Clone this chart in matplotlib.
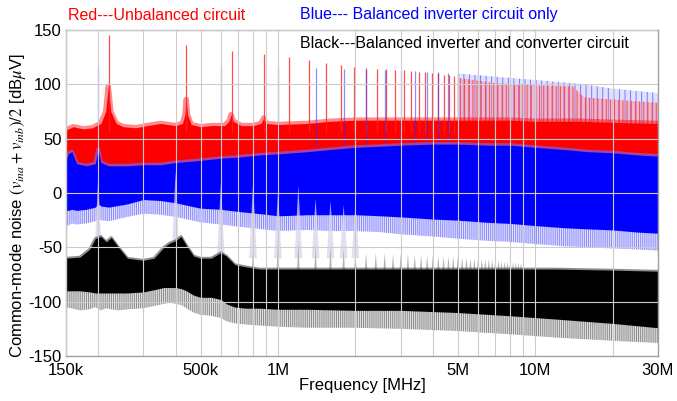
import numpy as np
import matplotlib
matplotlib.use('Agg')
import matplotlib.pyplot as plt
from matplotlib.ticker import LogLocator, NullFormatter

plt.rcParams['font.family'] = ['Liberation Sans', 'DejaVu Sans']
plt.rcParams['mathtext.fontset'] = 'stix'
plt.rcParams['axes.unicode_minus'] = False
plt.rcParams['hatch.linewidth'] = 0.7

# --- red trace (unbalanced), frequencies in MHz, levels in dBuV ---
red_f = [0.15, 0.16, 0.175, 0.19, 0.205, 0.214, 0.219, 0.224, 0.235, 0.25, 0.28, 0.31, 0.35,
         0.40, 0.425, 0.435, 0.44, 0.445, 0.46, 0.5, 0.55, 0.62, 0.645, 0.657, 0.67, 0.72,
         0.8, 0.86, 0.88, 0.9, 1.0, 1.3, 1.6, 2.0, 3.0, 4.0, 6.0, 8.0, 10.0, 15.0, 20.0, 30.0]
red_top = [58, 61, 59, 60, 64, 75, 98, 75, 64, 61, 60, 62, 64,
           62, 64, 72, 86, 72, 63, 61, 62, 62, 66, 72, 66, 62,
           62, 64, 69, 64, 63, 64, 66, 67, 67, 67, 67, 67, 66, 66, 65, 64]

red_spike_f = [0.22, 0.44, 0.66, 0.88, 1.10, 1.32, 1.54, 1.76, 1.98, 2.20, 2.42, 2.64,
               2.86, 3.08, 3.30, 3.52, 3.74, 3.96, 4.18, 4.40, 4.62, 4.84]
red_spike_top = [145, 136, 131, 128, 125, 122, 120, 118, 116, 115, 114, 114,
                 113, 113, 112, 111, 111, 110, 110, 109, 109, 108]

# dense harmonics above 5 MHz
comb_f = [5.0, 7.0, 10.0, 14.0, 15.5, 20.0, 30.0]
red_comb_top = [106, 101, 99, 98, 88, 86, 83]
blue_comb_top = [110, 107, 104, 101, 100, 96, 92]

# --- blue trace (balanced inverter only) ---
blue_f = [0.15, 0.153, 0.158, 0.165, 0.18, 0.195, 0.2, 0.205, 0.22, 0.26, 0.3, 0.35, 0.4,
          0.5, 0.6, 0.7, 0.85, 1.0, 1.3, 1.6, 2.0, 2.5, 3.0, 4.0, 5.0, 6.5, 8.0, 10.0,
          13.0, 16.0, 20.0, 25.0, 30.0]
blue_top = [30, 36, 38, 27, 25, 27, 40, 28, 25, 25, 26, 26, 28,
            30, 32, 33, 35, 36, 38, 40, 42, 43, 44, 45, 45, 44, 44, 42,
            40, 38, 37, 35, 34]
blue_bot = [-16, -16, -15, -16, -15, -13, -10, -12, -13, -10, -6, -7, -9,
            -14, -15, -17, -19, -21, -20, -20, -20, -21, -22, -24, -25, -27, -28, -30,
            -32, -33, -34, -36, -37]
blue_low = [-30, -30, -28, -29, -28, -26, -24, -25, -26, -22, -19, -20, -22,
            -27, -29, -31, -33, -35, -34, -35, -35, -36, -38, -40, -42, -44, -45, -47,
            -49, -50, -51, -52, -53]

blue_spike_f = [0.2, 0.6, 1.0, 1.4, 1.8, 2.2, 2.6, 3.0, 3.4, 3.8, 4.2, 4.6, 5.0]
blue_spike_top = [117, 117, 116, 115, 114, 113, 113, 112, 112, 111, 111, 110, 110]

# --- black trace (balanced inverter + converter) ---
black_f = [0.15, 0.17, 0.185, 0.195, 0.205, 0.215, 0.225, 0.24, 0.26, 0.3, 0.33, 0.36,
           0.38, 0.4, 0.42, 0.44, 0.47, 0.5, 0.55, 0.6, 0.63, 0.68, 0.75, 0.85, 1.0, 1.3,
           2.0, 3.0, 5.0, 8.0, 12.0, 20.0, 30.0]
black_top = [-60, -59, -52, -42, -40, -45, -41, -50, -60, -62, -60, -50,
             -46, -44, -40, -48, -58, -60, -60, -55, -58, -66, -68, -70, -70, -70,
             -70, -70, -70, -70, -70, -71, -72]
black_bot = [-90, -90, -91, -92, -92, -92, -92, -92, -92, -91, -89, -87,
             -87, -87, -88, -90, -94, -96, -96, -98, -102, -105, -106, -106, -107, -107,
             -108, -108, -110, -113, -116, -120, -124]
black_low = [-105, -108, -107, -105, -108, -106, -107, -108, -107, -106, -104, -102,
             -101, -102, -103, -106, -110, -112, -113, -115, -118, -120, -121, -122, -123, -124,
             -124, -125, -127, -130, -133, -136, -138]

# harmonics of the black trace showing over the blue band
tent_f = [0.2, 0.4, 0.6, 0.8, 1.0, 1.2, 1.4, 1.6, 1.8, 2.0]
tent_top = [14, 20, 9, 9, 0, 7, -5, -7, -11, -11]

# gray harmonics just above the black band
gray_f = [0.8, 1.0, 1.2, 1.4, 1.6, 1.8, 2.0, 2.2, 2.4, 2.6, 2.8, 3.0, 3.2, 3.4,
          3.6, 3.8, 4.0, 4.2, 4.4, 4.6, 4.8, 5.0, 5.2, 5.4, 5.6, 5.8, 6.0, 6.2,
          6.4, 6.6, 6.8, 7.0, 7.2, 7.4, 7.6, 7.8, 8.0, 8.2, 8.4, 8.6, 8.8, 9.0]
gray_top = [-52, -42, -44, -48, -48, -51, -54, -55, -55, -55, -56, -56, -56, -57,
            -57, -57, -57, -58, -58, -58, -58, -59, -59, -59, -60, -60, -60, -61,
            -61, -61, -62, -62, -62, -63, -63, -63, -64, -64, -64, -65, -65, -65]

xticks = [0.15, 0.5, 1, 5, 10, 30]
xticklabels = ['150k', '500k', '1M', '5M', '10M', '30M']
yticks = [-150, -100, -50, 0, 50, 100, 150]

fig = plt.figure(figsize=(6.77, 4.01), dpi=100)
ax = fig.add_axes([66/677, 45/401, 592/677, 326/401])
ax.set_xscale('log')

# dense high-frequency harmonics
ax.fill_between(comb_f, 60, blue_comb_top, facecolor=(0.6, 0.6, 1.0, 0.3),
                edgecolor=(0.3, 0.3, 1.0, 0.7), hatch='|||', linewidth=0, zorder=1.0)
ax.fill_between(comb_f, 60, red_comb_top, facecolor=(1.0, 0.5, 0.55, 0.4),
                edgecolor=(1.0, 0.1, 0.1, 0.7), hatch='||||', linewidth=0, zorder=1.05)

# red band and spikes
ax.plot(red_f, red_top, color='#ff0000', alpha=0.45, lw=4, zorder=1.08)
ax.fill_between(red_f, 0, red_top, color='#ff0000', linewidth=0, zorder=1.1)
ax.vlines(red_spike_f, 55, red_spike_top, color='#ff2020', alpha=0.8, lw=0.9, zorder=1.2)
ax.vlines(blue_spike_f, 40, blue_spike_top, color='#3030ff', alpha=0.55, lw=0.9, zorder=1.3)

# blue band
ax.fill_between(blue_f, blue_low, blue_bot, facecolor=(0.72, 0.72, 1.0, 0.4),
                edgecolor=(0.25, 0.25, 1.0, 0.55), hatch='||||||||', linewidth=0, zorder=1.4)
ax.plot(blue_f, blue_top, color='#7070ff', alpha=0.6, lw=3, zorder=1.45)
ax.fill_between(blue_f, blue_bot, blue_top, color='#0000ff', linewidth=0, zorder=1.5)

# black harmonics visible through blue
for f, t in zip(tent_f, tent_top):
    ax.fill([f / 1.035, f, f * 1.035], [-60, t, -60], color='#dcd4ec', alpha=0.75,
            linewidth=0, zorder=1.6)
for f, t in zip(gray_f, gray_top):
    ax.fill([f / 1.012, f, f * 1.012], [-72, t, -72], color='#b4b4b4',
            linewidth=0, zorder=1.7)

# black band
ax.fill_between(black_f, black_low, black_bot, facecolor=(0.75, 0.75, 0.75, 0.45),
                edgecolor=(0.35, 0.35, 0.35, 0.65), hatch='||||||||', linewidth=0, zorder=1.8)
ax.plot(black_f, black_top, color='#404040', alpha=0.6, lw=2, zorder=1.85)
ax.fill_between(black_f, black_bot, black_top, color='#000000', linewidth=0, zorder=1.9)

ax.set_xlim(0.15, 30)
ax.set_ylim(-150, 150)
ax.set_xticks(xticks)
ax.set_xticklabels(xticklabels)
ax.xaxis.set_minor_locator(LogLocator(base=10, subs=np.arange(2, 10)))
ax.xaxis.set_minor_formatter(NullFormatter())
ax.set_yticks(yticks)
ax.set_axisbelow(False)
ax.grid(True, which='both', color='#cccccc', linewidth=0.8)
ax.tick_params(which='both', length=0, labelsize=12)
ax.tick_params(axis='x', pad=5)
ax.tick_params(axis='y', pad=3)
for s in ax.spines.values():
    s.set_color('#a0a0a0')
    s.set_linewidth(1.0)

ax.set_xlabel('Frequency [MHz]', fontsize=12, labelpad=0)
fig.text(18/677, 1 - 206/401, r'Common-mode noise $(v_{ina}+v_{inb})/2$ [dB$\mu$V]',
         rotation=90, ha='center', va='center', fontsize=12)

fig.text(68/677, 1 - 15/401, 'Red---Unbalanced circuit', color='#ff0000',
         fontsize=11.5, ha='left', va='center')
fig.text(300/677, 1 - 15/401, 'Blue--- Balanced inverter circuit only', color='#0000ff',
         fontsize=11.5, ha='left', va='center')
fig.text(300/677, 1 - 43/401, 'Black---Balanced inverter and converter circuit',
         color='black', fontsize=11.5, ha='left', va='center')

fig.savefig('out.png', dpi=100)
